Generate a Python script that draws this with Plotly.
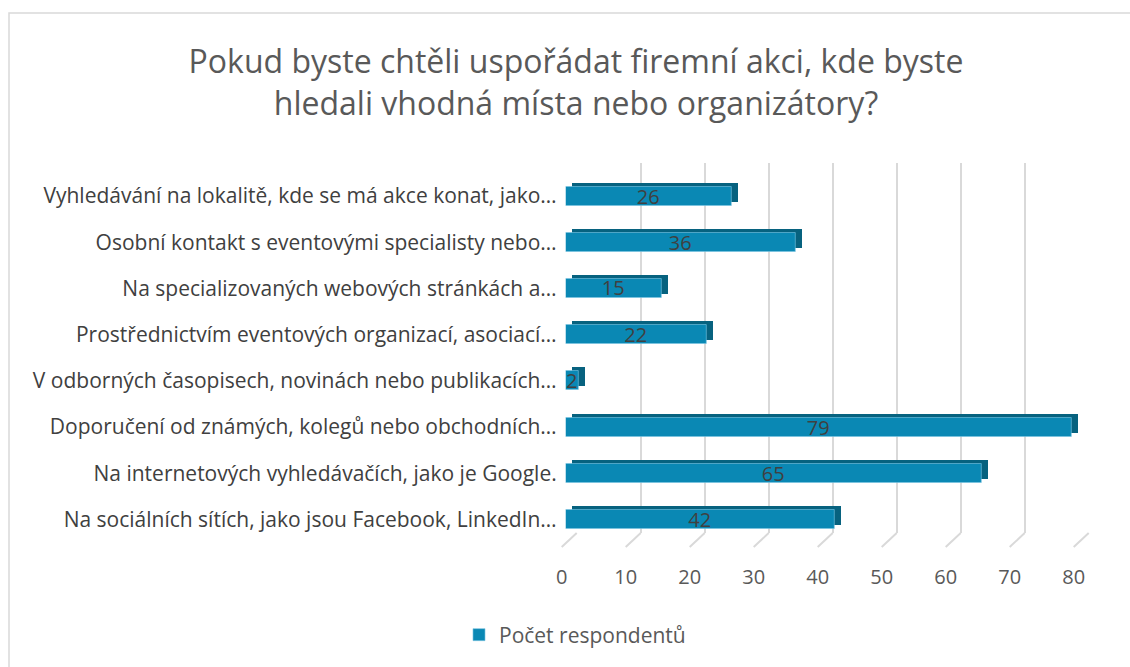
import plotly.graph_objects as go

# ---- data ----
categories = [
    "Vyhledávání na lokalitě, kde se má akce konat, jako…",
    "Osobní kontakt s eventovými specialisty nebo…",
    "Na specializovaných webových stránkách a…",
    "Prostřednictvím eventových organizací, asociací…",
    "V odborných časopisech, novinách nebo publikacích…",
    "Doporučení od známých, kolegů nebo obchodních…",
    "Na internetových vyhledávačích, jako je Google.",
    "Na sociálních sítích, jako jsou Facebook, LinkedIn…",
]
values = [26, 36, 15, 22, 2, 79, 65, 42]
series_name = "Počet respondentů"
x_ticks = [0, 10, 20, 30, 40, 50, 60, 70, 80]
title_text = "Pokud byste chtěli uspořádat firemní akci, kde byste<br>hledali vhodná místa nebo organizátory?"

# ---- geometry (pixels) ----
W, H = 1130, 667
def px(x): return x / W
def py(y): return 1 - y / H

front_x0, front_x1 = 565.7, 1077.7
front_top, front_bot = 172.9, 542.6
dx, dy = 6, 4               # depth of bar top/side faces
grid_x0, grid_x1 = 576.7, 1088.7
grid_top, grid_bot = 163, 533
bar_w = 0.41

FRONT = "#0A88B4"
BACK = "#07627F"
GRID = "#D9D9D9"
FONT = "Open Sans"

fig = go.Figure()

# back wall (gridlines) subplot
fig.add_trace(go.Scatter(x=[0], y=[0.5], mode="markers", marker=dict(opacity=0),
                         hoverinfo="skip", showlegend=False, xaxis="x", yaxis="y"))
# depth faces of the bars
fig.add_trace(go.Bar(y=categories, x=values, orientation="h", width=bar_w,
                     marker=dict(color=BACK, line=dict(width=0)),
                     hoverinfo="skip", showlegend=False, xaxis="x2", yaxis="y2"))
# front faces of the bars
fig.add_trace(go.Bar(y=categories, x=values, orientation="h", width=bar_w, name=series_name,
                     marker=dict(color=FRONT, line=dict(width=0.8, color="rgba(120,195,225,0.8)")),
                     text=[str(v) for v in values], textposition="inside", textangle=0,
                     insidetextanchor="middle", constraintext="none",
                     textfont=dict(family=FONT, size=20, color="#404040"),
                     xaxis="x3", yaxis="y3"))

rng = [x_ticks[0], x_ticks[-1]]
hid = dict(showgrid=False, showticklabels=False, zeroline=False, showline=False, ticks="",
           automargin=False)
fig.update_layout(
    template="none",
    width=W, height=H, autosize=False,
    margin=dict(l=0, r=0, t=0, b=0, pad=0, autoexpand=False),
    paper_bgcolor="white", plot_bgcolor="rgba(0,0,0,0)",
    font=dict(family=FONT, color="#595959"),
    title=dict(text=title_text, x=px(576), xanchor="center", y=py(73), yanchor="middle",
               font=dict(family=FONT, size=32, color="#595959")),
    xaxis=dict(domain=[px(grid_x0), px(grid_x1)], range=rng, anchor="y",
               tickvals=x_ticks, showgrid=True, gridcolor=GRID, gridwidth=2,
               showticklabels=False, zeroline=False, showline=False, ticks="", automargin=False),
    yaxis=dict(domain=[py(grid_bot), py(grid_top)], range=[0, 1], anchor="x", **hid),
    xaxis2=dict(domain=[px(front_x0 + dx), px(front_x1 + dx)], range=rng, anchor="y2", **hid),
    yaxis2=dict(domain=[py(front_bot - dy), py(front_top - dy)], anchor="x2",
                autorange="reversed", type="category", categoryorder="array", categoryarray=categories,
                **hid),
    xaxis3=dict(domain=[px(front_x0), px(front_x1)], range=rng, anchor="y3",
                tickvals=x_ticks, showgrid=False, zeroline=False, showline=False, ticks="",
                ticklabelstandoff=20, ticklabelshift=-4, automargin=False,
                tickfont=dict(family=FONT, size=20, color="#595959")),
    yaxis3=dict(domain=[py(front_bot), py(front_top)], anchor="x3",
                autorange="reversed", type="category", categoryorder="array", categoryarray=categories,
                showgrid=False, zeroline=False, showline=False, ticks="", ticklabelstandoff=8,
                automargin=False,
                tickfont=dict(family=FONT, size=21, color="#404040")),
    legend=dict(orientation="h", x=px(575), xanchor="center", y=py(635), yanchor="middle",
                font=dict(family=FONT, size=21, color="#595959")),
    bargap=0,
)

shapes = []
# floor diagonals under the back-wall gridlines
scale = (grid_x1 - grid_x0) / (x_ticks[-1] - x_ticks[0])
for t in x_ticks:
    xb = grid_x0 + t * scale
    shapes.append(dict(type="line", xref="paper", yref="paper",
                       x0=px(xb), y0=py(grid_bot), x1=px(xb - 15), y1=py(grid_bot + 14),
                       line=dict(color=GRID, width=2), layer="below"))
# chart frame
shapes.append(dict(type="rect", xref="paper", yref="paper",
                   x0=px(9), y0=-0.05, x1=1.05, y1=py(13),
                   line=dict(color="#D9D9D9", width=1.5), layer="below"))
fig.update_layout(shapes=shapes)

fig.write_html("out.html",
               config={"responsive": False, "displayModeBar": False},
               post_script="document.body.style.margin='0';document.body.style.overflow='hidden';")
